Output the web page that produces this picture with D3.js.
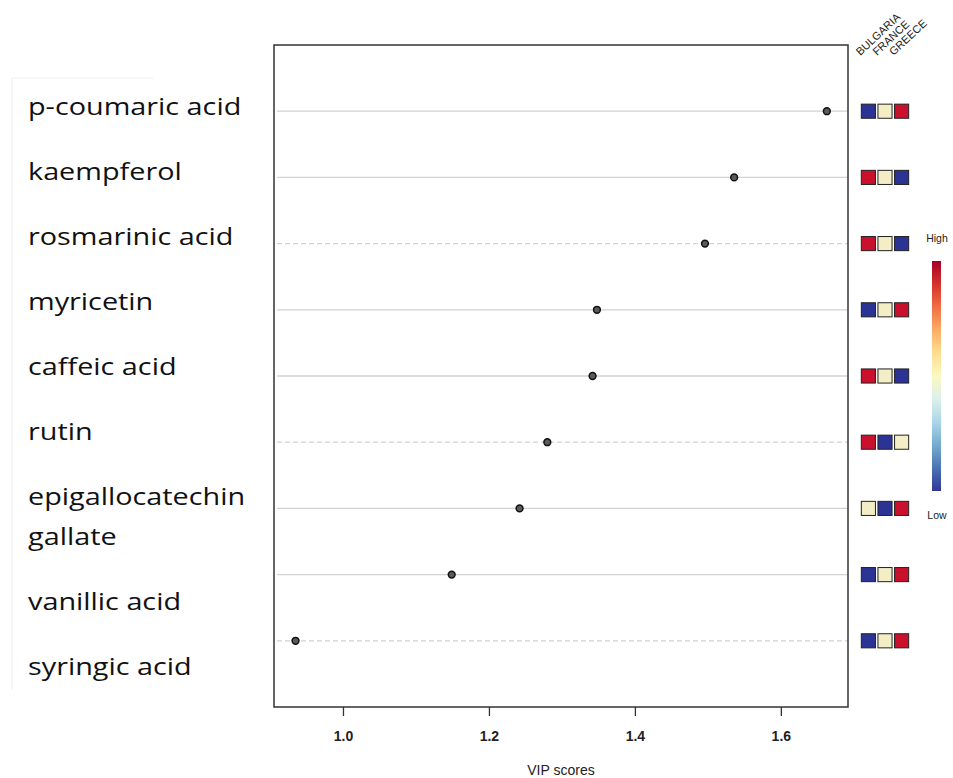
<!DOCTYPE html>
<html lang="en">
<head>
  <meta charset="UTF-8">
  <title>VIP scores</title>
  <script src="https://d3js.org/d3.v7.min.js"></script>
  <style>
    body {
      margin: 0;
      padding: 0;
      background: #fff;
      font-family: "Liberation Sans", Arial, sans-serif;
    }
    #chart { display: block; }
  </style>
</head>
<body>
  <div id="chart"></div>

  <script>
    // compounds, top to bottom
    const compounds = ["p-coumaric acid", "kaempferol", "rosmarinic acid", "myricetin",
      "caffeic acid", "rutin", "epigallocatechin gallate", "vanillic acid", "syringic acid"];
    // left-hand label panel (line breaks as in the picture)
    const labelLines = [["p-coumaric acid"], ["kaempferol"], ["rosmarinic acid"], ["myricetin"],
      ["caffeic acid"], ["rutin"], ["epigallocatechin", "gallate"], ["vanillic acid"], ["syringic acid"]];
    const vipScores = [1.663, 1.536, 1.496, 1.348, 1.342, 1.280, 1.242, 1.149, 0.935];
    // line type of each row guide
    const rowDashed = [false, false, true, false, false, true, false, false, true];

    const countries = ["BULGARIA", "FRANCE", "GREECE"];
    // relative level per country: "low", "mid", "high"
    const levels = [
      ["low", "mid", "high"],
      ["high", "mid", "low"],
      ["high", "mid", "low"],
      ["low", "mid", "high"],
      ["high", "mid", "low"],
      ["high", "low", "mid"],
      ["mid", "low", "high"],
      ["low", "mid", "high"],
      ["low", "mid", "high"]
    ];
    const xTicks = [1.0, 1.2, 1.4, 1.6];

    const width = 953, height = 778;
    const box = { left: 274, right: 848, top: 45, bottom: 707 };

    const svg = d3.select("#chart").append("svg")
      .attr("width", width)
      .attr("height", height);

    const x = d3.scaleLinear().domain([0.9055, 1.692]).range([box.left, box.right]);
    const y = d3.scalePoint().domain(compounds).range([box.top, box.bottom]).padding(1);

    // row guides
    svg.selectAll(".guide")
      .data(compounds)
      .enter().append("line")
      .attr("class", "guide")
      .attr("x1", box.left + 3)
      .attr("x2", box.right)
      .attr("y1", d => y(d))
      .attr("y2", d => y(d))
      .attr("stroke", "#d2d2d2")
      .attr("stroke-width", 1.3)
      .attr("stroke-dasharray", (d, i) => rowDashed[i] ? "5,3" : null);

    // points
    svg.selectAll(".dot")
      .data(compounds)
      .enter().append("circle")
      .attr("class", "dot")
      .attr("cx", (d, i) => x(vipScores[i]))
      .attr("cy", d => y(d))
      .attr("r", 3.4)
      .attr("fill", "#5a5a5a")
      .attr("stroke", "#111")
      .attr("stroke-width", 1.5);

    // frame
    svg.append("rect")
      .attr("x", box.left)
      .attr("y", box.top)
      .attr("width", box.right - box.left)
      .attr("height", box.bottom - box.top)
      .attr("fill", "none")
      .attr("stroke", "#333")
      .attr("stroke-width", 1.5);

    // x axis
    const xAxis = svg.append("g")
      .attr("transform", `translate(0,${box.bottom})`)
      .call(d3.axisBottom(x).tickValues(xTicks).tickSize(9).tickPadding(15).tickFormat(d3.format(".1f")));
    xAxis.select(".domain").remove();
    xAxis.selectAll(".tick line").attr("stroke", "#333").attr("stroke-width", 1.3);
    xAxis.selectAll(".tick text")
      .attr("fill", "#222")
      .style("font-family", "Liberation Sans, Arial, sans-serif")
      .style("font-size", "14px")
      .style("font-weight", "bold");

    svg.append("text")
      .attr("x", (box.left + box.right) / 2)
      .attr("y", 775)
      .attr("text-anchor", "middle")
      .attr("fill", "#222")
      .style("font-size", "14px")
      .text("VIP scores");

    // heat squares
    const colX = d3.scaleBand().domain(countries).range([860.5, 909.5]).paddingInner(0.15).paddingOuter(0.05);
    const levelColor = d3.scaleOrdinal().domain(["low", "mid", "high"]).range(["#2b3494", "#f3eec6", "#c9102d"]);
    const sq = colX.bandwidth();

    compounds.forEach((c, i) => {
      svg.selectAll(null)
        .data(levels[i])
        .enter().append("rect")
        .attr("x", (d, j) => colX(countries[j]))
        .attr("y", y(c) - sq / 2)
        .attr("width", sq)
        .attr("height", sq)
        .attr("fill", d => levelColor(d))
        .attr("stroke", "#222")
        .attr("stroke-width", 1);
    });

    // column headers
    svg.selectAll(".country")
      .data(countries)
      .enter().append("text")
      .attr("class", "country")
      .attr("transform", d => `translate(${colX(d) - 1},56) rotate(-43)`)
      .attr("fill", "#222")
      .style("font-size", "11px")
      .text(d => d);

    // colour key
    const defs = svg.append("defs");
    const grad = defs.append("linearGradient")
      .attr("id", "key")
      .attr("x1", 0).attr("x2", 0).attr("y1", 0).attr("y2", 1);
    d3.range(0, 1.0001, 0.1).forEach(t => {
      grad.append("stop").attr("offset", t).attr("stop-color", d3.interpolateRdYlBu(t));
    });
    svg.append("rect")
      .attr("x", 932)
      .attr("y", 261)
      .attr("width", 9)
      .attr("height", 230)
      .attr("fill", "url(#key)");
    svg.append("text").attr("x", 937).attr("y", 242).attr("text-anchor", "middle")
      .attr("fill", "#222").style("font-size", "10.5px").text("High");
    svg.append("text").attr("x", 937).attr("y", 519).attr("text-anchor", "middle")
      .attr("fill", "#222").style("font-size", "10.5px").text("Low");

    // left label panel
    svg.append("path")
      .attr("d", "M12,690 V78 H153")
      .attr("fill", "none")
      .attr("stroke", "#eeeeee")
      .attr("stroke-width", 1);

    let lineY = 107;
    labelLines.forEach((lines, i) => {
      lines.forEach((t, k) => {
        svg.append("text")
          .attr("transform", `translate(28,${lineY}) scale(1.2,1)`)
          .attr("dy", "0.35em")
          .attr("fill", "#111")
          .style("font-family", "'Open Sans', sans-serif")
          .style("font-size", "24px")
          .text(t);
        if (k < lines.length - 1) lineY += 40;
      });
      lineY += 65;
    });
  </script>
</body>
</html>
